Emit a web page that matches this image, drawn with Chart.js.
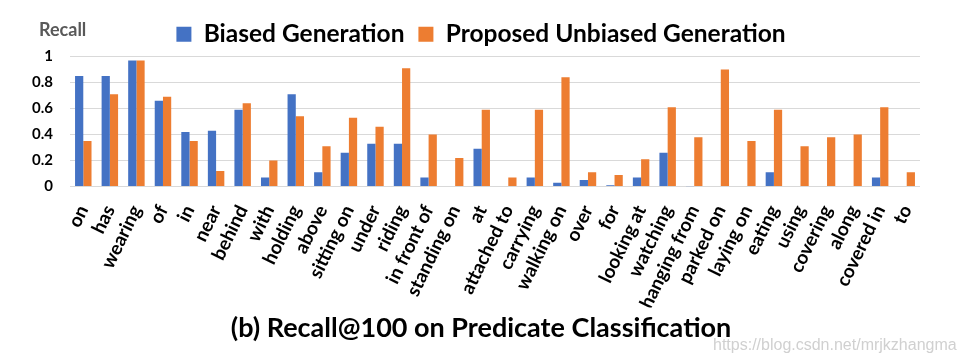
<!DOCTYPE html>
<html>
<head>
<meta charset="utf-8">
<script src="https://cdn.jsdelivr.net/npm/chart.js@4.4.0/dist/chart.umd.min.js"></script>
<style>
  html, body { margin: 0; padding: 0; background: #fff; }
  #wrap { width: 962px; height: 364px; }
</style>
</head>
<body>
<div id="wrap"><canvas id="recallChart" width="962" height="364"></canvas></div>
<script>
var predicates = ['on', 'has', 'wearing', 'of', 'in', 'near', 'behind', 'with', 'holding', 'above',
  'sitting on', 'under', 'riding', 'in front of', 'standing on', 'at', 'attached to', 'carrying',
  'walking on', 'over', 'for', 'looking at', 'watching', 'hanging from', 'parked on', 'laying on',
  'eating', 'using', 'covering', 'along', 'covered in', 'to'];
var biased = [0.85, 0.85, 0.97, 0.66, 0.42, 0.43, 0.59, 0.07, 0.71, 0.11,
  0.26, 0.33, 0.33, 0.07, 0.005, 0.29, 0, 0.07,
  0.03, 0.05, 0.01, 0.07, 0.26, 0.003, 0, 0,
  0.11, 0, 0, 0, 0.07, 0];
var unbiased = [0.35, 0.71, 0.97, 0.69, 0.35, 0.12, 0.64, 0.2, 0.54, 0.31,
  0.53, 0.46, 0.91, 0.4, 0.22, 0.59, 0.07, 0.59,
  0.84, 0.11, 0.09, 0.21, 0.61, 0.38, 0.9, 0.35,
  0.59, 0.31, 0.38, 0.4, 0.61, 0.11];
var yTicks = [0, 0.2, 0.4, 0.6, 0.8, 1];
var seriesNames = ['Biased Generation', 'Proposed Unbiased Generation'];

// extra texts drawn on the canvas
var extraText = {
  id: 'extraText',
  afterDraw: function(chart) {
    var ctx = chart.ctx;
    ctx.save();
    ctx.font = 'bold 18px Lato';
    ctx.fillStyle = '#595959';
    ctx.textAlign = 'left';
    ctx.textBaseline = 'middle';
    ctx.fillText('Recall', 39, 30);
    ctx.font = '16px "Liberation Sans"';
    ctx.fillStyle = '#d0d0d0';
    ctx.fillText('https://blog.csdn.net/mrjkzhangma', 713, 346);
    ctx.restore();
  }
};

var whiteBg = {
  id: 'whiteBg',
  beforeDraw: function(chart) {
    var ctx = chart.ctx;
    ctx.save();
    ctx.fillStyle = '#fff';
    ctx.fillRect(0, 0, chart.width, chart.height);
    ctx.restore();
  }
};

var ctx = document.getElementById('recallChart');
var chart = new Chart(ctx, {
  type: 'bar',
  data: {
    labels: predicates,
    datasets: [
      {
        label: seriesNames[0] + ' ',
        backgroundColor: '#4472C4',
        data: biased
      },
      {
        label: seriesNames[1],
        backgroundColor: '#ED7D31',
        data: unbiased
      }
    ]
  },
  options: {
    responsive: false,
    animation: false,
    layout: { padding: { left: 21, right: 21, top: 14, bottom: 18 } },
    datasets: { bar: { categoryPercentage: 0.62, barPercentage: 1 } },
    plugins: {
      legend: {
        position: 'top',
        labels: {
          boxWidth: 15,
          boxHeight: 15,
          padding: 8,
          color: '#000',
          font: { family: 'Lato', size: 24.5, weight: 'bold' }
        }
      },
      title: {
        display: true,
        position: 'bottom',
        text: '(b) Recall@100 on Predicate Classification',
        color: '#000',
        font: { family: 'Lato', size: 27, weight: 'bold' },
        padding: { top: 4, bottom: 2 }
      },
      tooltip: { enabled: false }
    },
    scales: {
      x: {
        grid: { display: false },
        border: { display: false },
        ticks: {
          autoSkip: false,
          maxRotation: 64,
          minRotation: 64,
          padding: 7,
          color: '#000',
          font: { family: 'Lato', size: 19, weight: 'bold' }
        },
        afterFit: function(scale) { scale.height = 121; }
      },
      y: {
        min: 0,
        max: 1,
        grid: { color: '#d9d9d9', drawTicks: false },
        border: { display: false },
        ticks: {
          padding: 17,
          color: '#000',
          font: { family: 'Lato', size: 15, weight: 'bold' },
          callback: function(v) { return String(v); }
        },
        afterBuildTicks: function(scale) {
          scale.ticks = yTicks.map(function(v) { return { value: v }; });
        },
        afterFit: function(scale) { scale.width = 49; }
      },
      // empty right axis, only keeps the plot away from the right edge
      yRight: {
        position: 'right',
        min: 0,
        max: 1,
        grid: { display: false },
        border: { display: false },
        ticks: { display: false },
        afterFit: function(scale) { scale.width = 21; }
      }
    }
  },
  plugins: [whiteBg, extraText]
});
</script>
</body>
</html>
